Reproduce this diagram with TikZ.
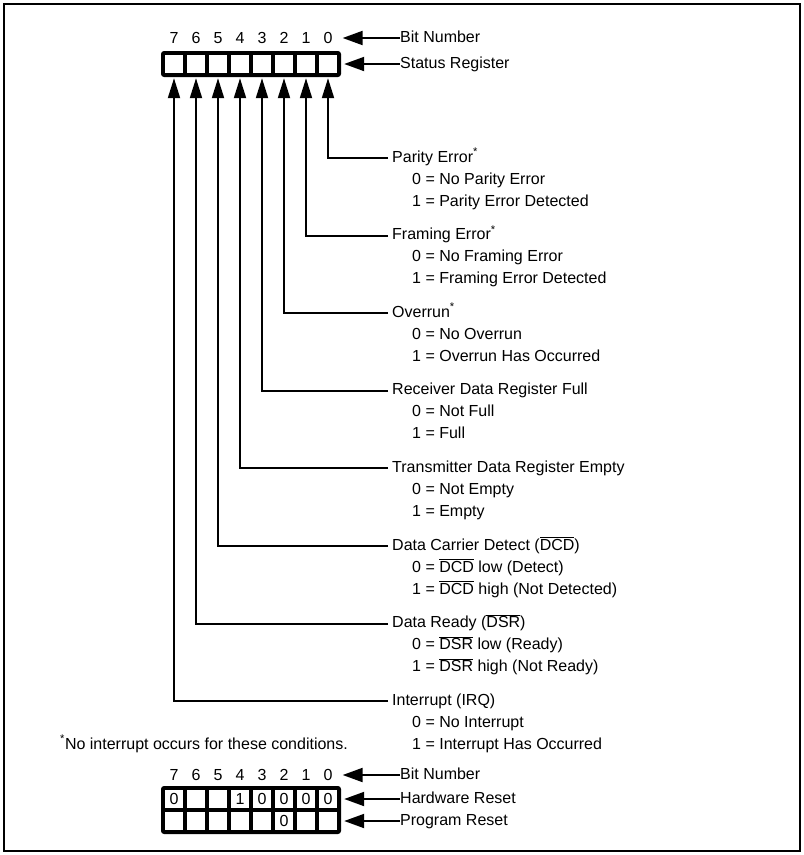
\documentclass[tikz,border=0pt]{standalone}
\usepackage{fontspec}
\setmainfont{Liberation Sans}
\usetikzlibrary{arrows.meta,positioning,calc}

\begin{document}
\begin{tikzpicture}[x=1pt,y=-1pt,font=\fontsize{16}{19}\selectfont]
  \tikzstyle{lbl}=[anchor=west,inner sep=0pt,text height=11.5pt,text depth=3.5pt]
  \tikzstyle{regbox}=[fill=black,rounded corners=3pt,minimum width=180pt,inner sep=0pt]
  \tikzstyle{cell}=[fill=white,minimum width=18pt,minimum height=18pt,inner sep=0pt]
  \tikzstyle{bitarrow}=[line width=2pt,-{Triangle[length=20pt,width=12pt]}]
  \tikzstyle{pointer}=[line width=2pt,{Triangle[length=20pt,width=14pt]}-,shorten <=3pt]
  \useasboundingbox (0,0) rectangle (804,855);
  \draw[line width=2pt] (4,4) rectangle (800,851);

  % status register
  \node[regbox,minimum height=26pt] (reg) at (251,64) {};
  \foreach \bit in {0,...,7} {
    \node[cell] (s\bit) at ({328-22*\bit},64) {};
    \node[inner sep=0pt] (n\bit) at ({328-22*\bit},38) {\bit};
  }
  \node[lbl] (bitnum) at (400,38) {Bit Number};
  \node[lbl] (status) at (400,64) {Status Register};
  \draw[pointer,shorten <=10pt] (n0) -- (bitnum);
  \draw[pointer] (reg) -- (status);

  % one field per bit
  \foreach \bit/\nm/\ta/\tb in {
      0/{Parity Error\textsuperscript{*}}/{No Parity Error}/{Parity Error Detected},
      1/{Framing Error\textsuperscript{*}}/{No Framing Error}/{Framing Error Detected},
      2/{Overrun\textsuperscript{*}}/{No Overrun}/{Overrun Has Occurred},
      3/{Receiver Data Register Full}/{Not Full}/{Full},
      4/{Transmitter Data Register Empty}/{Not Empty}/{Empty},
      5/{Data Carrier Detect ($\overline{\mbox{DCD}}$)}/{$\overline{\mbox{DCD}}$ low (Detect)}/{$\overline{\mbox{DCD}}$ high (Not Detected)},
      6/{Data Ready ($\overline{\mbox{DSR}}$)}/{$\overline{\mbox{DSR}}$ low (Ready)}/{$\overline{\mbox{DSR}}$ high (Not Ready)},
      7/{Interrupt (IRQ)}/{No Interrupt}/{Interrupt Has Occurred}} {
    \node[lbl] (l\bit) at (392,{158+77.6*\bit}) {\nm};
    \node[lbl] (z\bit) at (412,{180+77.6*\bit}) {0 = \ta};
    \node[lbl] (o\bit) at (412,{202+77.6*\bit}) {1 = \tb};
    \draw[bitarrow,shorten <=4pt,shorten >=1pt] (l\bit.west) -| (s\bit |- reg.south);
  }
  \node[lbl] (note) at (60,745) {\textsuperscript{*}No interrupt occurs for these conditions.};

  % reset values
  \node[regbox,minimum height=48pt] (reg2) at (251,810) {};
  \foreach \bit/\hv/\pv in {0/0/,1/0/,2/0/0,3/0/,4/1/,5//,6//,7/0/} {
    \node[cell] (h\bit) at ({328-22*\bit},799) {\hv};
    \node[cell] (p\bit) at ({328-22*\bit},821) {\pv};
    \node[inner sep=0pt] (m\bit) at ({328-22*\bit},775) {\bit};
  }
  \node[lbl] (bitnum2) at (400,775) {Bit Number};
  \node[lbl] (hwreset) at (400,799) {Hardware Reset};
  \node[lbl] (pgreset) at (400,821) {Program Reset};
  \draw[pointer,shorten <=10pt] (m0) -- (bitnum2);
  \draw[pointer] (reg2.east |- h0) -- (hwreset);
  \draw[pointer] (reg2.east |- p0) -- (pgreset);
\end{tikzpicture}
\end{document}
